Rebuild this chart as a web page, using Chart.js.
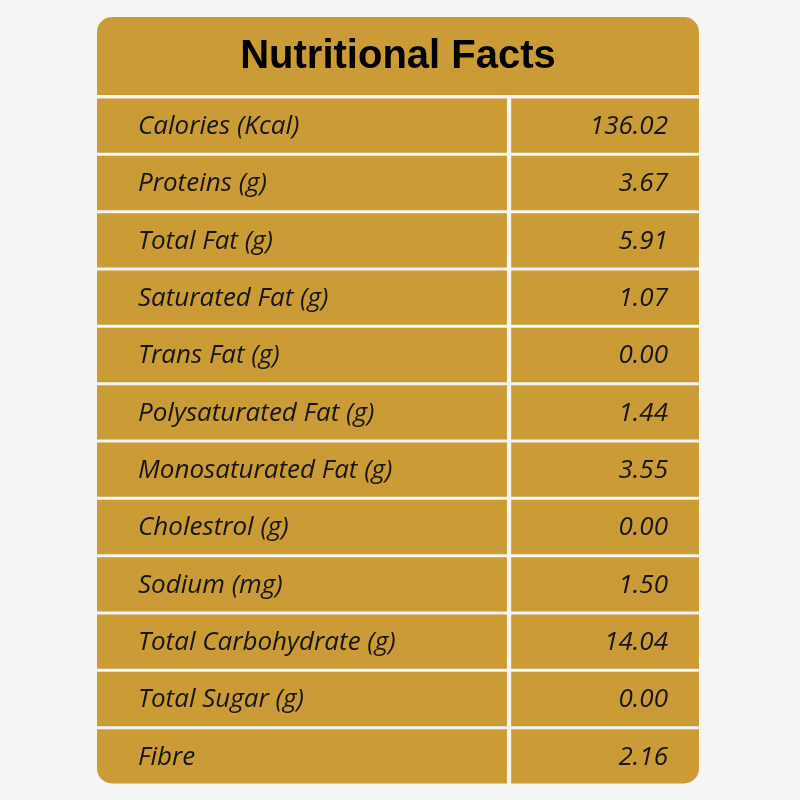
<!DOCTYPE html>
<html lang="en">
<head>
  <meta charset="UTF-8" />
  <title>Nutritional Facts</title>
  <script src="https://cdn.jsdelivr.net/npm/chart.js"></script>
  <style>
    body { margin: 0; background: #f5f5f5; }
  </style>
</head>
<body>
  <canvas id="tabela" width="800" height="800"></canvas>

  <script>
    const titulo = "Nutritional Facts";
    const nutrientes = [
      "Calories (Kcal)", "Proteins (g)", "Total Fat (g)", "Saturated Fat (g)",
      "Trans Fat (g)", "Polysaturated Fat (g)", "Monosaturated Fat (g)",
      "Cholestrol (g)", "Sodium (mg)", "Total Carbohydrate (g)", "Total Sugar (g)", "Fibre"
    ];
    const valores = [
      "136.02", "3.67", "5.91", "1.07", "0.00", "1.44",
      "3.55", "0.00", "1.50", "14.04", "0.00", "2.16"
    ];

    const dourado = "#CB9C36";
    const ultimo = nutrientes.length - 1;

    const plugin = {
      id: "tabela",
      beforeDraw(chart) {
        const c = chart.ctx;
        c.save();
        c.fillStyle = "#f5f5f5";
        c.fillRect(0, 0, chart.width, chart.height);
        const x = chart.scales.x;
        const left = x.getPixelForValue(0), right = x.getPixelForValue(1);
        const top = chart.chartArea.top;
        c.fillStyle = dourado;
        c.beginPath();
        c.roundRect(left, 17, right - left, top - 17 - 2, [15, 15, 0, 0]);
        c.fill();
        c.fillStyle = "#000";
        c.font = "bold 40px 'Liberation Sans', Arial, sans-serif";
        c.textAlign = "center";
        c.textBaseline = "middle";
        c.fillText(titulo, (left + right) / 2, 57);
        c.restore();
      },
      afterDatasetsDraw(chart) {
        const c = chart.ctx;
        const x = chart.scales.x, y = chart.scales.y;
        c.save();
        c.fillStyle = "#161616";
        c.font = "italic 26px 'Open Sans', sans-serif";
        c.textBaseline = "middle";
        nutrientes.forEach((n, i) => {
          const py = y.getPixelForValue(i) + 1;
          c.textAlign = "left";
          c.fillText(n, x.getPixelForValue(0) + 41, py);
          c.textAlign = "right";
          c.fillText(valores[i], x.getPixelForValue(1) - 31, py);
        });
        c.restore();
      }
    };

    new Chart(document.getElementById("tabela"), {
      type: "bar",
      data: {
        labels: nutrientes,
        datasets: [
          {
            data: nutrientes.map(() => [0, 0.681]),
            backgroundColor: dourado,
            grouped: false,
            borderSkipped: false,
            borderRadius: ctx => ctx.dataIndex === ultimo ? { bottomLeft: 15 } : 0
          },
          {
            data: nutrientes.map(() => [0.688, 1]),
            backgroundColor: dourado,
            grouped: false,
            borderSkipped: false,
            borderRadius: ctx => ctx.dataIndex === ultimo ? { bottomRight: 15 } : 0
          }
        ]
      },
      options: {
        indexAxis: "y",
        responsive: false,
        animation: false,
        layout: { padding: { left: 97, right: 101, top: 97, bottom: 15 } },
        datasets: { bar: { barPercentage: 1, categoryPercentage: 0.948 } },
        plugins: { legend: { display: false }, tooltip: { enabled: false } },
        scales: {
          x: { display: false, min: 0, max: 1 },
          y: { display: false }
        }
      },
      plugins: [plugin]
    });
  </script>
</body>
</html>
